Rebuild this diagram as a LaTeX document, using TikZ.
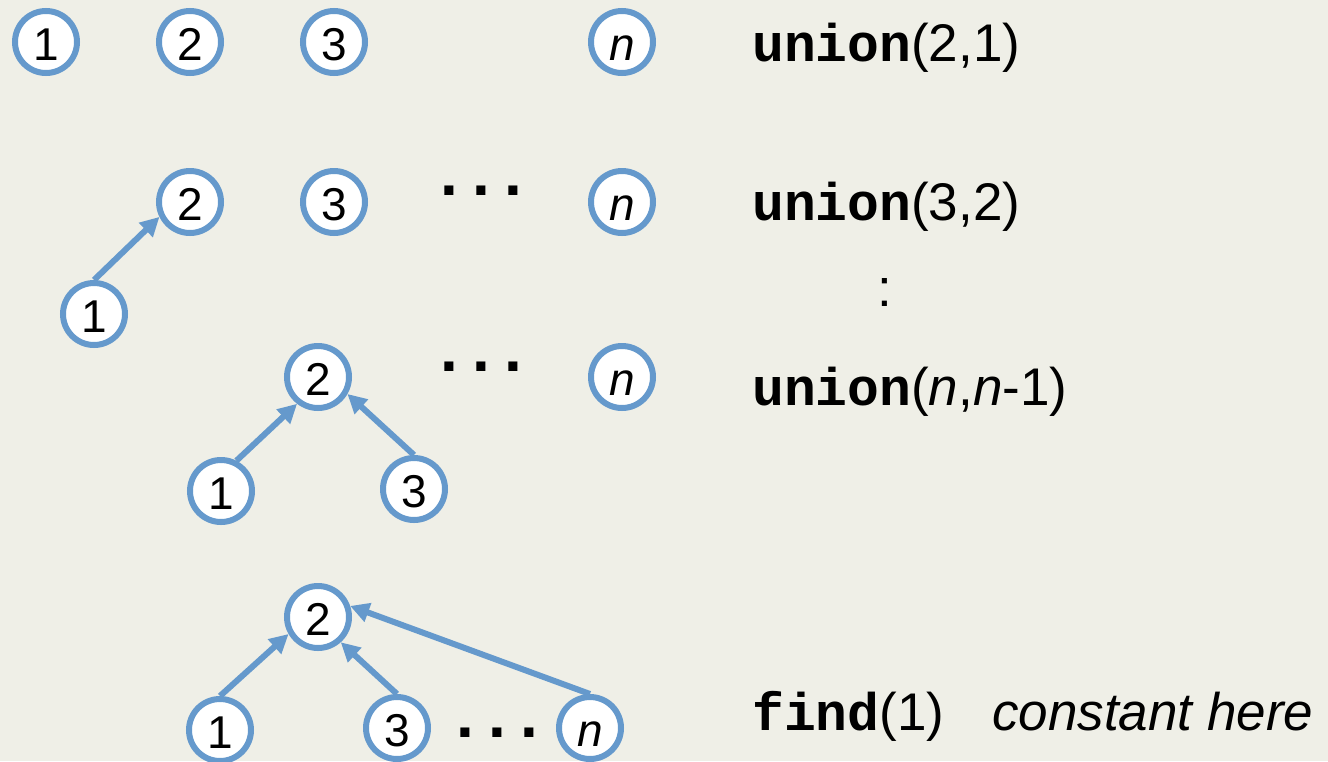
\documentclass[tikz,border=0pt]{standalone}
\usepackage{fontspec}
\setmainfont{Liberation Sans}
\newfontfamily\codefont{Liberation Mono}
\usetikzlibrary{arrows.meta}
\definecolor{paper}{RGB}{239,239,231}
\definecolor{ring}{RGB}{101,153,204}
\tikzset{
  elem/.style={circle, draw=ring, line width=6pt, fill=white, minimum size=62pt,
    inner sep=0pt, font=\fontsize{46}{46}\selectfont, text height=37pt, text depth=0pt},
  link/.style={draw=ring, line width=6pt, -{Triangle[length=19pt,width=19pt]}},
  txt/.style={anchor=base west, inner sep=0pt, font=\fontsize{53}{53}\selectfont},
  ellip/.style={anchor=base west, inner sep=0pt, font=\fontsize{64}{64}\selectfont\bfseries},
}
\newcommand\op[1]{{\codefont\bfseries #1}}
\newcommand\threedots{.\kern14.2pt.\kern14.2pt.}
\begin{document}
\begin{tikzpicture}[x=1pt,y=-1pt]
  \fill[paper] (0,0) rectangle (1328,761);
  \useasboundingbox (0,0) rectangle (1328,761);

  % singletons
  \node[elem] (a1) at (46,42) {1};
  \node[elem] (a2) at (190,42) {2};
  \node[elem] (a3) at (334,42) {3};
  \node[elem] (an) at (622,42) {\itshape n};

  % after union(2,1)
  \node[elem] (b2) at (190,202) {2};
  \node[elem] (b3) at (334,202) {3};
  \node[elem] (bn) at (622,202) {\itshape n};
  \node[elem] (b1) at (94,314) {1};
  \node[ellip] (bd) at (440,195) {\threedots};

  % after union(3,2)
  \node[elem] (c2) at (318,377) {2};
  \node[elem] (cn) at (622,377) {\itshape n};
  \node[elem] (c1) at (221,491) {1};
  \node[elem] (c3) at (414,489) {3};
  \node[ellip] (cd) at (440,371) {\threedots};

  % after union(n,n-1)
  \node[elem] (d2) at (318,617) {2};
  \node[elem] (d1) at (220,730) {1};
  \node[elem] (d3) at (397,728) {3};
  \node[elem] (dn) at (590,728) {\itshape n};
  \node[ellip] (dd) at (456,737.5) {\threedots};

  % parent pointers
  \draw[link] (b1.north) -- (b2.206);
  \draw[link] (c1.63) -- (c2.232);
  \draw[link] (c3.north) -- (c2.330);
  \draw[link] (d1.north) -- (d2.210);
  \draw[link] (d3.north) -- (d2.312);
  \draw[link] (dn.north) -- (d2.19);

  % operations
  \node[txt] (t1) at (752,61) {\op{union}(2,1)};
  \node[txt] (t2) at (752,220) {\op{union}(3,2)};
  \node[txt] (tc) at (877,306) {:};
  \node[txt] (t3) at (752,405) {\op{union}(\textit{n},\textit{n}-1)};
  \node[txt] (t4) at (752,730) {\op{find}(1)};
  \node[txt] (t5) at (992,730) {\itshape constant here};
\end{tikzpicture}
\end{document}
